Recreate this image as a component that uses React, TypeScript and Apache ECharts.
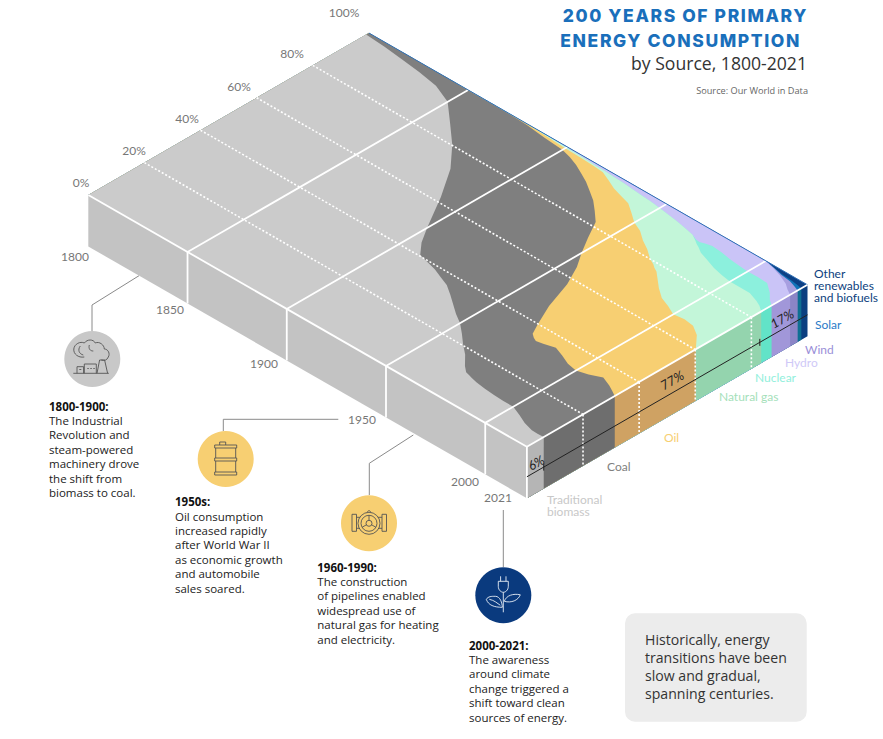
import React, { useEffect, useRef } from "react";
import * as echarts from "echarts";

const years = [1800,1810,1820,1830,1840,1850,1860,1870,1880,1890,1900,1905,1910,1915,1920,1925,1930,1935,1940,1945,1950,1955,1960,1965,1970,1973,1975,1977,1980,1985,1990,1995,2000,2005,2010,2015,2018,2021];

// Upper edge (cumulative share, %) of every source in the stack
const biomassTop = [99,98.5,97.7,96.8,95.6,92.7,86.5,80.2,72.5,62,50,44.5,40.5,39.5,38.6,37.2,35.8,33.5,31,28.5,26.4,23.5,20.4,17.6,14,12.3,11.9,11.5,11,10.5,10.2,10,10,8.6,7,6,5.9,6];
const coalTop = [100,100,100,100,100,99.9,99.9,99.9,99.6,98.8,98.2,97.3,96,94.3,92.5,90.3,88,85,81.8,75.5,69.7,64.5,57.5,47.5,40,36,35,34.3,34.8,35.8,34.5,33,32.3,33.3,35,33.6,32.5,31.3];
const oilTop = [100,100,100,100,100,100,99.9,99.9,99.9,99.6,99.2,99.1,99,98.8,98.5,97,95.4,94.4,93.4,91,88.5,87,84.5,82.5,80,79,78,77.3,75.5,72.5,70,68.7,67,67.5,67,64.8,62.5,60.2];
const gasTop = [100,100,100,100,100,100,100,100,100,99.9,99.7,99.6,99.5,99.3,99.2,99,98.8,98.5,98.2,97.9,97.5,97,96.5,95.8,95.1,93.9,93,92.3,91,89.8,88.6,87.8,87.2,87.2,87.2,86,85,83.5];
const nuclearTop = [100,100,100,100,100,100,100,100,100,99.9,99.7,99.6,99.5,99.3,99.2,99,98.8,98.5,98.2,97.9,97.5,97,96.5,95.8,95.1,94.2,94,94.6,95.1,94.8,94.2,93.8,93.5,93.6,93.4,90.8,88.7,87.2];
const hydroTop = [100,100,100,100,100,100,100,100,100,100,100,100,100,100,100,100,100,100,100,100,100,100,100,100,100,100,100,100,100,100,100,100,99.9,99.1,98,96.5,95,93.8];
const windTop = [100,100,100,100,100,100,100,100,100,100,100,100,100,100,100,100,100,100,100,100,100,100,100,100,100,100,100,100,100,100,100,100,100,99.3,98.4,98,97.3,96.5];
const solarTop = [100,100,100,100,100,100,100,100,100,100,100,100,100,100,100,100,100,100,100,100,100,100,100,100,100,100,100,100,100,100,100,100,100,99.4,98.7,98.5,98.2,97.8];
const otherTop = years.map(() => 100);

const yearTicks = [1850, 1900, 1950, 2000];
const shareTicks = [20, 40, 60, 80];
const yearLabels = ["1800", "1850", "1900", "1950", "2000", "2021"];
const shareLabels = ["0%", "20%", "40%", "60%", "80%", "100%"];
const bracketTicks = [6, 83];
const bracketLabels = ["6%", "77%", "17%"];
const bracketLabelShares = [3.2, 51.7, 90.9];

const sources = [
  { name: "Other renewables and biofuels", top: otherTop, fill: "#0c4085", face: "#0b3f80" },
  { name: "Solar", top: solarTop, fill: "#1273b8", face: "#0e6f92" },
  { name: "Wind", top: windTop, fill: "#a79fe0", face: "#8b85c6" },
  { name: "Hydro", top: hydroTop, fill: "#cac4f7", face: "#a197d9" },
  { name: "Nuclear", top: nuclearTop, fill: "#8cf0dd", face: "#62e3c8" },
  { name: "Natural gas", top: gasTop, fill: "#c3f6d9", face: "#94d4ae" },
  { name: "Oil", top: oilTop, fill: "#f7cf72", face: "#cfa263" },
  { name: "Coal", top: coalTop, fill: "#7f7f7f", face: "#6e6e6e" },
  { name: "Traditional biomass", top: biomassTop, fill: "#cbcbcb", face: "#b5b5b5" },
];

// Projection of the hidden year/share plane onto the isometric slab
const ORIGIN = [88.3, 195];
const YEAR_VEC = [438.6 / 221, 251.8 / 221];
const SHARE_VEC = [2.806, -1.62];
const DEPTH = 51.5;
const FIRST = years[0];
const LAST = years[years.length - 1];

const iso = (api: any, year: number, share: number): number[] => {
  const [gx, gy] = api.coord([year, share]);
  const s = 100 - gy;
  return [ORIGIN[0] + gx * YEAR_VEC[0] + s * SHARE_VEC[0], ORIGIN[1] + gx * YEAR_VEC[1] + s * SHARE_VEC[1]];
};
const down = (p: number[], d: number) => [p[0], p[1] + d];

const line = (a: number[], b: number[], style: any) => ({
  type: "line",
  shape: { x1: a[0], y1: a[1], x2: b[0], y2: b[1] },
  style: { fill: "none", ...style },
});

const custom = (name: string, data: any[], renderItem: any) => ({
  type: "custom",
  name,
  silent: true,
  clip: false,
  coordinateSystem: "cartesian2d",
  data,
  renderItem,
});

const sourceSeries = sources.map((src) =>
  custom(src.name, years.map((y, i) => [y, src.top[i]]), (params: any, api: any) => {
    if (params.dataIndex !== 0) return null;
    const edge = years.map((y, i) => iso(api, y, src.top[i]));
    const a = iso(api, LAST, 0);
    const b = iso(api, FIRST, 0);
    const t = iso(api, LAST, src.top[src.top.length - 1]);
    return {
      type: "group",
      children: [
        { type: "polygon", shape: { points: [...edge, a, b] }, style: { fill: src.fill } },
        { type: "polygon", shape: { points: [a, t, down(t, DEPTH), down(a, DEPTH)] }, style: { fill: src.face } },
      ],
    };
  })
);

const WHITE_SOLID = { stroke: "#ffffff", lineWidth: 1.8 };
const WHITE_DASH = { stroke: "#ffffff", lineWidth: 1.6, lineDash: [2, 2] };
const BRACKET_DROP = 30;
const bracketLabelLift = [-9, -13, -11];

const option: any = {
  animation: false,
  tooltip: { show: false },
  grid: { left: 0, top: 0, width: 221, height: 100, containLabel: false },
  xAxis: { type: "value", min: FIRST, max: LAST, show: false },
  yAxis: { type: "value", min: 0, max: 100, show: false },
  series: [
    custom("front", [[FIRST, 0]], (_p: any, api: any) => {
      const a = iso(api, FIRST, 0);
      const b = iso(api, LAST, 0);
      return { type: "polygon", shape: { points: [a, b, down(b, DEPTH), down(a, DEPTH)] }, style: { fill: "#c3c3c3" } };
    }),
    ...sourceSeries,
    custom("shareGrid", shareTicks.map((s) => [FIRST, s]), (_p: any, api: any) => {
      const s = api.value(1);
      const a = iso(api, FIRST, s);
      const b = iso(api, LAST, s);
      return {
        type: "group",
        children: [line(a, b, WHITE_DASH), line(b, down(b, DEPTH), WHITE_DASH)],
      };
    }),
    custom("yearGrid", yearTicks.map((y) => [y, 0]), (_p: any, api: any) => {
      const y = api.value(0);
      const a = iso(api, y, 0);
      const b = iso(api, y, 100);
      return {
        type: "group",
        children: [line(a, b, WHITE_SOLID), line(a, down(a, DEPTH), WHITE_SOLID)],
      };
    }),
    custom("edges", [[FIRST, 0]], (_p: any, api: any) => {
      const a = iso(api, FIRST, 0);
      const b = iso(api, LAST, 0);
      const c = iso(api, LAST, 100);
      const d = iso(api, FIRST, 100);
      return {
        type: "group",
        children: [
          line(d, c, { stroke: "#2f6fb5", lineWidth: 1 }),
          line(a, b, WHITE_SOLID),
          line(b, c, WHITE_SOLID),
          line(b, down(b, DEPTH), WHITE_SOLID),
        ],
      };
    }),
    custom("bracket", [[LAST, 0]], (_p: any, api: any) => {
      const a = down(iso(api, LAST, 0), BRACKET_DROP);
      const b = down(iso(api, LAST, 100), BRACKET_DROP);
      const ticks = bracketTicks.map((s) => {
        const p = down(iso(api, LAST, s), BRACKET_DROP);
        return line(down(p, -3.5), down(p, 3.5), { stroke: "#222", lineWidth: 1 });
      });
      const labels = bracketLabels.map((text, i) => {
        const p = iso(api, LAST, bracketLabelShares[i]);
        return {
          type: "text",
          x: p[0],
          y: p[1] + BRACKET_DROP + bracketLabelLift[i],
          rotation: Math.PI / 6,
          style: { text, font: "italic 13px Lato", fill: "#222", textAlign: "center", textVerticalAlign: "middle" },
        };
      });
      return { type: "group", children: [line(a, b, { stroke: "#222", lineWidth: 1 }), ...ticks, ...labels] };
    }),
  ],
};

// Page layout of the texts and the callouts
const label = (text: string, x: number, y: number, fill: string, font = "12px Lato", textAlign = "left", extra: any = {}) => ({
  type: "text",
  style: { text, x, y, fill, font, textAlign, textVerticalAlign: "middle", ...extra },
});

const yearPos = [[75, 256], [170, 309], [264, 363], [362, 419], [465, 481], [498, 497]];
const sharePos = [[81, 182], [134, 150], [187, 118], [239, 86], [292, 53], [344, 12]];

const sourceLabels = [
  label("Other\nrenewables\nand biofuels", 814, 285, "#0d3f7e", "12px Lato", "left", { lineHeight: 12 }),
  label("Solar", 815, 324, "#2a7bc8"),
  label("Wind", 805, 349, "#9a8fd8"),
  label("Hydro", 785, 362, "#cfc9f7"),
  label("Nuclear", 755, 377, "#92efdc"),
  label("Natural gas", 719, 396, "#a5dfba"),
  label("Oil", 664, 437, "#f7cf72"),
  label("Coal", 607, 466, "#808080"),
  label("Traditional\nbiomass", 547, 505.5, "#c8c8c8", "12px Lato", "left", { lineHeight: 11.5 }),
];

const noteBlock = (x: number, y: number, head: string, lines: string[]) => [
  label(head, x, y, "#111", "700 11.5px 'Open Sans'"),
  ...lines.map((t, i) => label(t, x, y + 14.4 * (i + 1), "#222", "11.5px 'Open Sans'")),
];

const ICON_FACTORY = "M-8 -2 C-14 -1 -19 -5 -18.5 -10 C-18 -15 -12 -18 -8 -16 C-5 -20 1 -20 3 -16 C7 -18 12 -14 12 -10 C16 -10 18 -5 16 -2 C15 1 12 2 9 1 M-12 -13 C-15 -9 -13 -5 -9 -4 M-3 -14 C-4 -10 -2 -8 1 -8 M-19 14.3 H16.5 M-15.3 14.3 V7.7 H-8.7 V14.3 M-8 14.3 V5 H4 V14.3 M4.7 14.3 L7.3 1 H12.3 L15.3 14.3 M-13 10.5 H-11 M-5 9.5 H-3.5 M-2 9.5 H-0.5 M1 9.5 H2.5";
const ICON_BARREL = "M-6 -14 V-17 H0 V-14 M-11 -14 H11 V-11 H-11 Z M-10 -11 V-1 M10 -11 V-1 M-11 -1 H11 V2 H-11 Z M-10 2 V13 M10 2 V13 M-11 13 H11 V16 H-11 Z";
const ICON_PIPE = "M-17 -9 H-12.5 V8 H-17 Z M13 -9 H17.5 V8 H13 Z M-12.5 -6 H-9 M-12.5 5 H-9 M13 -6 H9 M13 5 H9 M11 0 A11 11 0 1 1 -11 0 A11 11 0 1 1 11 0 Z M8 0 A8 8 0 1 1 -8 0 A8 8 0 1 1 8 0 Z M3 0 A3 3 0 1 1 -3 0 A3 3 0 1 1 3 0 Z M0 -3 V-8 M-2.6 1.5 L-7 4 M2.6 1.5 L7 4 M-2 -11 L0 -13 L2 -11";
const ICON_PLANT = "M-2.7 -19 V-14 M2.7 -19 V-14 M-5 -14 H5 V-9 C5 -5 2 -3 0 -3 C-2 -3 -5 -5 -5 -9 Z M0 -3 V17 M-1 12 C-1 8 -3 1 -8 1 C-12 1 -15 1 -17 4 C-15 10 -9 12 -1 12 Z M1 6 C3 0 10 -2 17 -0.5 C15 5 8 8 1 6 Z M-14 4 C-9 5 -6 8 -3 10";

echarts.graphic.registerShape("iconFactory", echarts.graphic.extendPath(ICON_FACTORY, {}));
echarts.graphic.registerShape("iconBarrel", echarts.graphic.extendPath(ICON_BARREL, {}));
echarts.graphic.registerShape("iconPipe", echarts.graphic.extendPath(ICON_PIPE, {}));
echarts.graphic.registerShape("iconPlant", echarts.graphic.extendPath(ICON_PLANT, {}));

const callout = (cx: number, cy: number, fill: string, icon: string, stroke: string, leader: number[][]) => [
  { type: "polyline", shape: { points: leader }, style: { stroke: "#8a8a8a", lineWidth: 1, fill: "none" } },
  { type: "circle", shape: { cx, cy, r: 28 }, style: { fill } },
  { type: icon, x: cx, y: cy, style: { stroke, fill: "none", lineWidth: 0.9 } },
];

const TITLE_COLOR = "#1a6fbb";
const titleLines = ["200 YEARS OF PRIMARY", "ENERGY CONSUMPTION"];

option.graphic = {
  elements: [
    label(titleLines[0], 808, 15, TITLE_COLOR, "800 17.5px Inter", "right"),
    label(titleLines[1], 801, 40, TITLE_COLOR, "800 17.5px Inter", "right"),
    label("by Source, 1800-2021", 807, 63, "#333", "17.6px 'Open Sans'", "right"),
    label("Source: Our World in Data", 808, 90, "#666", "9.2px 'Open Sans'", "right"),
    ...yearLabels.map((t, i) => label(t, yearPos[i][0], yearPos[i][1], "#777", "12px Lato", "center")),
    ...shareLabels.map((t, i) => label(t, sharePos[i][0], sharePos[i][1], "#777", "12px Lato", "center")),
    ...sourceLabels,
    ...callout(92.3, 359, "#c8c8c8", "iconFactory", "#555", [[139, 275.7], [92, 305], [92, 331]]),
    ...callout(225.7, 459, "#f7cf72", "iconBarrel", "#555", [[338.3, 419.3], [223.3, 419.3], [223.3, 431]]),
    ...callout(369, 523.3, "#f7cf72", "iconPipe", "#555", [[413.3, 435], [369.3, 463.3], [369.3, 495]]),
    ...callout(503.3, 595.3, "#0a3a7e", "iconPlant", "#e8eef6", [[503.3, 510], [503.3, 567]]),
    ...noteBlock(49, 406, "1800-1900:", ["The Industrial", "Revolution and", "steam-powered", "machinery drove", "the shift from", "biomass to coal."]),
    ...noteBlock(175, 501.7, "1950s:", ["Oil consumption", "increased rapidly", "after World War II", "as economic growth", "and automobile", "sales soared."]),
    ...noteBlock(317.3, 567, "1960-1990:", ["The construction", "of pipelines enabled", "widespread use of", "natural gas for heating", "and electricity."]),
    ...noteBlock(469, 645, "2000-2021:", ["The awareness", "around climate", "change triggered a", "shift toward clean", "sources of energy."]),
    { type: "rect", shape: { x: 625, y: 613.3, width: 181.7, height: 108.4, r: 10 }, style: { fill: "#ececec" } },
    ...["Historically, energy", "transitions have been", "slow and gradual,", "spanning centuries."].map((t, i) =>
      label(t, 645, 639.3 + 18 * i, "#333", "14.1px 'Open Sans'")
    ),
  ],
};

export default function App() {
  const ref = useRef<HTMLDivElement>(null);
  useEffect(() => {
    if (!ref.current) return;
    const chart = echarts.init(ref.current, undefined, { renderer: "svg" });
    chart.setOption(option);
    ref.current.querySelectorAll("text").forEach((t: any) => {
      if (titleLines.includes(t.textContent)) t.style.letterSpacing = "1.6px";
    });
    return () => chart.dispose();
  }, []);
  return (
    <div style={{ position: "fixed", left: 0, top: 0, width: 883, height: 739, background: "#fff", overflow: "hidden" }}>
      <div ref={ref} style={{ width: 883, height: 739 }} />
    </div>
  );
}
